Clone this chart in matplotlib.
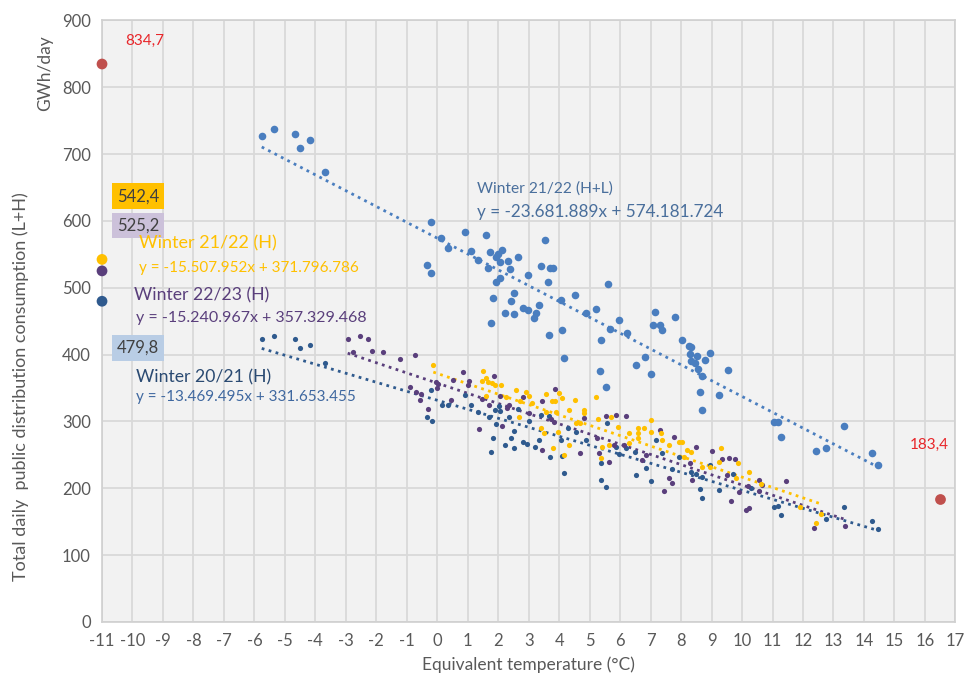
import matplotlib
matplotlib.use("Agg")
import matplotlib.pyplot as plt
import numpy as np

plt.rcParams['font.family'] = ['Lato', 'DejaVu Sans']
plt.rcParams['axes.unicode_minus'] = False

# Winter 21/22 (H+L)
hl_x = [-5.76, -5.37, -4.68, -4.52, -4.16, -3.70,
        -0.19, -0.33, -0.19, 0.13, 0.36, 0.92, 1.12, 1.34, 1.61, 1.67, 1.74, 1.93, 2.00, 2.06,
        2.13, 2.33, 2.39, 2.65, 1.93, 2.06, 1.84, 1.77, 2.23, 2.42, 2.52, 2.52, 2.82, 2.98, 2.98,
        3.18, 3.24, 3.34, 3.41, 3.54, 3.64, 3.70, 3.80, 3.67, 4.10, 4.06, 4.52, 4.88, 5.21, 5.37,
        4.16, 5.34, 5.54, 5.60, 5.96, 5.67, 6.22, 7.14, 7.07, 7.30, 7.37, 7.79, 6.81, 6.52, 7.01,
        8.02, 8.25, 8.32, 8.29, 8.52, 8.78, 8.94, 8.32, 8.45, 8.55, 8.68, 9.53, 8.61, 9.24, 8.68,
        11.04, 11.17, 11.27, 12.44, 12.77, 13.36, 14.28, 14.47]
hl_y = [727, 737, 730, 709, 721, 673,
        598, 534, 522, 574, 559, 583, 555, 541, 579, 529, 553, 546, 550, 538,
        556, 540, 528, 546, 508, 514, 484, 447, 462, 480, 492, 460, 469, 466, 519,
        454, 462, 474, 532, 571, 508, 529, 529, 429, 437, 481, 489, 462, 468, 422,
        395, 375, 351, 505, 451, 438, 432, 463, 444, 444, 437, 456, 396, 384, 371,
        422, 413, 411, 401, 398, 392, 402, 390, 387, 378, 368, 377, 344, 339, 317,
        299, 299, 277, 256, 260, 293, 253, 235]

# Winter 20/21 (H)
w20_x = [-5.76, -5.37, -4.68, -4.52, -4.16, -3.70,
         -0.19, -0.33, -0.16, 0.17, 0.36, 0.92, 1.12, 1.34, 1.70, 1.84, 1.77, 2.23, 1.93, 1.90, 2.06,
         2.36, 2.65, 2.03, 3.41, 3.67, 2.52, 2.42, 2.52, 2.82, 2.95, 3.21, 3.34, 3.70, 4.06, 4.10,
         4.16, 4.55, 4.88, 5.37, 5.37, 5.54, 5.57, 5.86, 5.96, 6.52, 6.85, 7.01, 7.17, 7.37, 7.70,
         7.93, 8.32, 8.48, 8.68, 8.61, 8.68, 9.24, 8.94, 9.70, 10.30, 6.20, 6.50, 4.30, 3.00,
         11.04, 11.17, 11.27, 12.77, 13.36, 14.28, 14.47]
w20_y = [423, 428, 423, 410, 414, 387,
         347, 306, 301, 324, 324, 340, 324, 314, 306, 275, 254, 265, 296, 317, 316,
         306, 318, 323, 309, 308, 260, 275, 286, 269, 266, 262, 272, 247, 272, 248,
         223, 284, 272, 238, 212, 202, 297, 262, 251, 220, 230, 211, 272, 253, 229,
         247, 224, 222, 217, 199, 185, 197, 235, 222, 200, 260, 255, 290, 300,
         172, 173, 160, 154, 172, 151, 139]

# Winter 22/23 (H)
w22_x = [-2.94, -2.52, -2.26, -2.78, -2.13, -1.77, -1.21, -0.72, -0.88, -0.69, -0.52, -0.56,
         -0.29, -0.03, 0.03, 0.00, 0.53, 0.46, 0.85, 1.05, 1.02, 1.48, 1.38, 1.87, 1.70, 2.06,
         2.13, 2.29, 2.36, 2.82, 3.44, 3.87, 3.74, 3.84, 3.01, 4.82, 5.54, 5.86, 6.19, 5.24,
         5.31, 4.68, 5.63, 3.44, 5.80, 6.13, 6.72, 6.85, 7.30, 7.76, 8.48, 8.29, 8.35, 7.60,
         7.70, 7.43, 9.01, 9.33, 9.56, 9.76, 9.50, 9.63, 10.12, 10.22, 10.19, 9.89, 10.55,
         11.43, 10.55, 12.35, 13.39, 10.65]
w22_y = [423, 428, 423, 404, 405, 404, 393, 399, 351, 344, 341, 332,
         318, 359, 356, 350, 362, 332, 374, 360, 354, 333, 289, 368, 324, 338,
         293, 320, 324, 336, 330, 348, 303, 299, 312, 305, 308, 309, 308, 275,
         253, 253, 239, 257, 265, 265, 242, 250, 287, 277, 262, 238, 212, 215,
         208, 196, 256, 244, 245, 244, 220, 181, 167, 170, 203, 194, 212,
         211, 196, 141, 143, 205]

# Winter 21/22 (H)
w21_x = [-0.13, 1.51, 1.48, 1.61, 1.67, 1.80, 1.90, 2.10, 1.61, 2.26,
         2.59, 2.92, 3.01, 3.11, 2.72, 2.69, 3.57, 3.77, 3.87, 4.00, 4.10, 4.52, 4.32, 3.90,
         3.57, 4.82, 4.82, 4.55, 4.68, 5.21, 5.27, 5.70, 5.93, 6.29, 6.58, 6.78, 7.01, 7.01,
         6.58, 6.58, 3.41, 3.51, 3.96, 3.80, 4.32, 4.16, 5.40, 5.63, 6.29, 7.37, 7.60, 7.93,
         8.02, 8.19, 8.32, 8.09, 8.68, 8.94, 9.30, 9.24, 9.86, 10.22, 9.79, 10.62, 11.90,
         12.58, 12.44, 5.37, 7.34]
w21_y = [384, 375, 360, 365, 359, 357, 354, 354, 338, 336,
         347, 344, 338, 327, 330, 306, 341, 330, 330, 342, 335, 332, 317, 314,
         314, 317, 312, 297, 297, 336, 303, 307, 292, 283, 290, 290, 302, 284,
         283, 275, 290, 283, 284, 260, 265, 250, 262, 265, 268, 272, 265, 269,
         269, 257, 254, 247, 232, 232, 260, 239, 238, 224, 215, 206, 172,
         161, 148, 245, 283]

# trend line coefficients (slope, intercept) as shown on the chart
hl_fit = (-23.681889, 574.181724)
w21_fit = (-15.507952, 371.796786)
w22_fit = (-15.240967, 357.329468)
w20_fit = (-13.469495, 331.653455)

# highlighted values
peak_x = [-11, -11, -11, -11]
peak_y = [834.7, 542.4, 525.2, 479.8]
low_x = [16.5]
low_y = [183.4]

c_hl = '#4a7ebf'
c_w20 = '#2f5a8e'
c_w22 = '#5a3f7c'
c_w21 = '#ffc000'
c_red = '#c0504d'

fig = plt.figure(figsize=(9.67, 6.79), dpi=100)
ax = fig.add_axes([0.1055, 0.084, 0.8825, 0.886])
ax.set_facecolor('#f2f2f2')

ax.scatter(hl_x, hl_y, s=30, color=c_hl, zorder=3, linewidths=0)
ax.scatter(w20_x, w20_y, s=14, color=c_w20, zorder=3, linewidths=0)
ax.scatter(w22_x, w22_y, s=14, color=c_w22, zorder=3, linewidths=0)
ax.scatter(w21_x, w21_y, s=14, color=c_w21, zorder=3, linewidths=0)

# dotted trend lines over each series' range
for xs, fit, col in [(hl_x, hl_fit, c_hl), (w21_x, w21_fit, c_w21),
                     (w22_x, w22_fit, c_w22), (w20_x, w20_fit, c_w20)]:
    xx = np.array([min(xs), max(xs)])
    ax.plot(xx, fit[0] * xx + fit[1], color=col, linestyle=(0, (1, 1.6)), linewidth=2, zorder=2)

peak_cols = [c_red, c_w21, c_w22, c_w20]
ax.scatter(peak_x, peak_y, s=60, color=peak_cols, zorder=4, clip_on=False, linewidths=0)
ax.scatter(low_x, low_y, s=60, color=c_red, zorder=4, linewidths=0)

ax.text(-10.25, 870, '834,7', color='#e8262a', fontsize=11, va='center')
ax.text(15.5, 265, '183,4', color='#e8262a', fontsize=11, va='center')
box_kw = dict(fontsize=12, color='#404040', va='center', zorder=5)
ax.text(-10.5, 637, '542,4', bbox=dict(facecolor='#ffc000', edgecolor='none', pad=3.5), **box_kw)
ax.text(-10.5, 593, '525,2', bbox=dict(facecolor='#ccc1da', edgecolor='none', pad=3.5), **box_kw)
ax.text(-10.5, 410, '479,8', bbox=dict(facecolor='#b9cde5', edgecolor='none', pad=3.5), **box_kw)

ax.text(-9.8, 567, 'Winter 21/22 (H)', color=c_w21, fontsize=13, va='center', zorder=5)
ax.text(-9.8, 530, 'y = -15.507.952x + 371.796.786', color=c_w21, fontsize=11, va='center', zorder=5)
ax.text(-9.95, 488, 'Winter 22/23 (H)', color=c_w22, fontsize=12.7, va='center', zorder=5)
ax.text(-9.9, 455, 'y = -15.240.967x + 357.329.468', color=c_w22, fontsize=11.5, va='center', zorder=5)
ax.text(-9.9, 366, 'Winter 20/21 (H)', color='#2a4a72', fontsize=12.7, va='center', zorder=5)
ax.text(-9.9, 337, 'y = -13.469.495x + 331.653.455', color='#3f68a0', fontsize=11, va='center', zorder=5)
ax.text(1.3, 648, 'Winter 21/22 (H+L)', color='#4a6f9c', fontsize=11.2, va='center', zorder=5)
ax.text(1.3, 614, 'y = -23.681.889x + 574.181.724', color='#4a6f9c', fontsize=12.3, va='center', zorder=5)

ax.set_xlim(-11, 17)
ax.set_ylim(0, 900)
ax.set_xticks(np.arange(-11, 18, 1))
ax.set_yticks(np.arange(0, 1000, 100))
ax.grid(True, color='#d9d9d9', linewidth=1.3, zorder=0)
ax.set_axisbelow(True)
ax.tick_params(length=0, labelsize=12, labelcolor='#595959', pad=8)
for sp in ax.spines.values():
    sp.set_color('#d0d0d0')
    sp.set_linewidth(1.2)

ax.set_xlabel('Equivalent temperature (°C)', fontsize=12.5, color='#595959', labelpad=5)
fig.text(0.021, 0.43, 'Total daily  public distribution consumption (L+H)', rotation=90,
         fontsize=13, color='#595959', ha='center', va='center')
fig.text(0.047, 0.893, 'GWh/day', rotation=90, fontsize=12.5, color='#595959', ha='center', va='center')

fig.savefig('out.png', dpi=100)
